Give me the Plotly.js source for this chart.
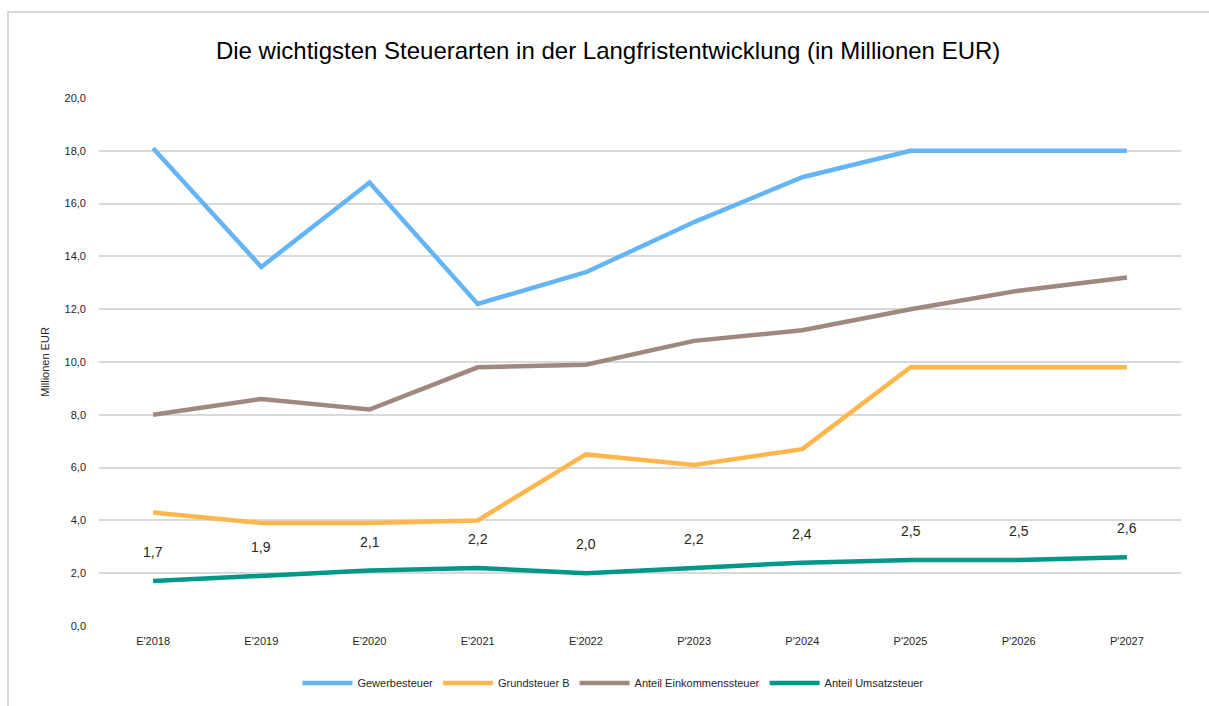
<!DOCTYPE html>
<html>
<head>
<meta charset="utf-8">
<script src="https://cdn.plot.ly/plotly-3.0.1.min.js"></script>
<style>
  html, body { margin: 0; padding: 0; background: #ffffff; overflow: hidden; }
  #chart { position: absolute; left: 0; top: 0; width: 1209px; height: 706px; }
  #frame { position: absolute; left: 7px; top: 11px; width: 1300px; height: 800px;
           border-left: 2px solid #d9d9d9; border-top: 2px solid #d9d9d9; pointer-events: none; }
</style>
</head>
<body>
<div id="chart"></div>
<div id="frame"></div>
<script>
const categories = ["E'2018", "E'2019", "E'2020", "E'2021", "E'2022", "P'2023", "P'2024", "P'2025", "P'2026", "P'2027"];
const gewerbesteuer = [18.1, 13.6, 16.8, 12.2, 13.4, 15.3, 17.0, 18.0, 18.0, 18.0];
const grundsteuerB = [4.3, 3.9, 3.9, 4.0, 6.5, 6.1, 6.7, 9.8, 9.8, 9.8];
const einkommensteuer = [8.0, 8.6, 8.2, 9.8, 9.9, 10.8, 11.2, 12.0, 12.7, 13.2];
const umsatzsteuer = [1.7, 1.9, 2.1, 2.2, 2.0, 2.2, 2.4, 2.5, 2.5, 2.6];
const seriesNames = ["Gewerbesteuer", "Grundsteuer B", "Anteil Einkommenssteuer", "Anteil Umsatzsteuer"];
const yTicks = [0, 2, 4, 6, 8, 10, 12, 14, 16, 18, 20];

const FONT = "'Liberation Sans', Arial, sans-serif";
const colors = ["#64B5F6", "#FFB74D", "#A1887F", "#009688"];
const seriesData = [gewerbesteuer, grundsteuerB, einkommensteuer, umsatzsteuer];

const traces = seriesData.map((vals, i) => ({
  type: "scatter",
  mode: "lines",
  x: categories,
  y: vals,
  name: seriesNames[i],
  line: { color: colors[i], width: 4.5 },
  hoverinfo: "x+y+name"
}));

const annotations = umsatzsteuer.map((v, i) => ({
  x: categories[i],
  y: v,
  xref: "x",
  yref: "y",
  text: v.toFixed(1).replace(".", ","),
  showarrow: false,
  yshift: 29,
  font: { family: FONT, size: 14, color: "#262626" }
}));

const layout = {
  width: 1209,
  height: 706,
  paper_bgcolor: "#ffffff",
  plot_bgcolor: "#ffffff",
  separators: ",.",
  margin: { l: 99, r: 28, t: 98, b: 80, autoexpand: false },
  font: { family: FONT, color: "#262626" },
  title: {
    text: "Die wichtigsten Steuerarten in der Langfristentwicklung (in Millionen EUR)",
    font: { family: FONT, size: 24, color: "#000000" },
    x: 0.503,
    xanchor: "center",
    xref: "container",
    y: 0.929,
    yanchor: "middle",
    yref: "container"
  },
  xaxis: {
    type: "category",
    range: [-0.5, 9.5],
    showgrid: false,
    zeroline: false,
    showline: false,
    ticks: "",
    tickfont: { family: FONT, size: 11, color: "#262626" },
    ticklabelstandoff: 7,
    fixedrange: true
  },
  yaxis: {
    range: [0, 20],
    tickvals: yTicks,
    tickformat: ".1f",
    showgrid: true,
    gridcolor: "#d9d9d9",
    gridwidth: 2,
    zeroline: false,
    showline: false,
    ticks: "",
    ticklabelstandoff: 12,
    tickfont: { family: FONT, size: 11, color: "#262626" },
    title: {
      text: "Millionen EUR",
      font: { family: FONT, size: 11, color: "#262626" },
      standoff: 12
    },
    fixedrange: true
  },
  showlegend: true,
  legend: {
    orientation: "h",
    x: 0.475,
    xanchor: "center",
    y: 0.0326,
    yref: "container",
    yanchor: "middle",
    itemwidth: 50,
    font: { family: FONT, size: 11, color: "#262626" },
    traceorder: "normal"
  },
  annotations: annotations
};

Plotly.newPlot("chart", traces, layout, { displayModeBar: false });
</script>
</body>
</html>
